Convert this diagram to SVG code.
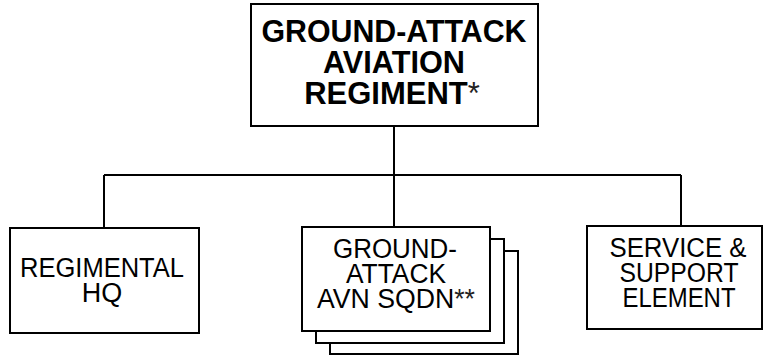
<svg xmlns="http://www.w3.org/2000/svg" width="764" height="356" viewBox="0 0 764 356">
<style>
.box{fill:#fff;stroke:#000;stroke-width:2}
.conn{fill:none;stroke:#000;stroke-width:2}
.title{font-family:"Liberation Sans",Arial,sans-serif;font-size:31px;font-weight:bold;text-anchor:middle;fill:#000}
.lbl{font-family:"Liberation Sans",Arial,sans-serif;font-size:27px;text-anchor:middle;fill:#000}
.ast{font-weight:normal;fill:#222}
</style>
<rect width="764" height="356" fill="#fff"/>
<g id="connectors">
<path class="conn" d="M394 126V175M104 175H681M104 175V228M394 175V227M681 175V226"/>
</g>
<g id="regiment">
<rect class="box" x="251" y="4" width="287" height="122"/>
<text class="title" x="394" y="42" textLength="265" lengthAdjust="spacingAndGlyphs">GROUND-ATTACK</text>
<text class="title" x="394" y="73" textLength="142" lengthAdjust="spacingAndGlyphs">AVIATION</text>
<text class="title" x="392" y="104">REGIMENT<tspan class="ast">*</tspan></text>
</g>
<g id="hq">
<rect class="box" x="10" y="228" width="189" height="105"/>
<text class="lbl" x="102" y="277" textLength="164" lengthAdjust="spacingAndGlyphs">REGIMENTAL</text>
<text class="lbl" x="102" y="302">HQ</text>
</g>
<g id="sqdn">
<rect class="box" x="330" y="251" width="188" height="103"/>
<rect class="box" x="316" y="239" width="188" height="104"/>
<rect class="box" x="302" y="227" width="188" height="104"/>
<text class="lbl" x="395" y="258" textLength="124" lengthAdjust="spacingAndGlyphs">GROUND-</text>
<text class="lbl" x="396" y="283" textLength="100" lengthAdjust="spacingAndGlyphs">ATTACK</text>
<text class="lbl" x="396" y="308" textLength="158" lengthAdjust="spacingAndGlyphs">AVN SQDN<tspan class="ast">**</tspan></text>
</g>
<g id="service">
<rect class="box" x="587" y="226" width="175" height="103"/>
<text class="lbl" x="678" y="257" textLength="137" lengthAdjust="spacingAndGlyphs">SERVICE &amp;</text>
<text class="lbl" x="679" y="282" textLength="119" lengthAdjust="spacingAndGlyphs">SUPPORT</text>
<text class="lbl" x="679" y="307" textLength="113" lengthAdjust="spacingAndGlyphs">ELEMENT</text>
</g>
</svg>
